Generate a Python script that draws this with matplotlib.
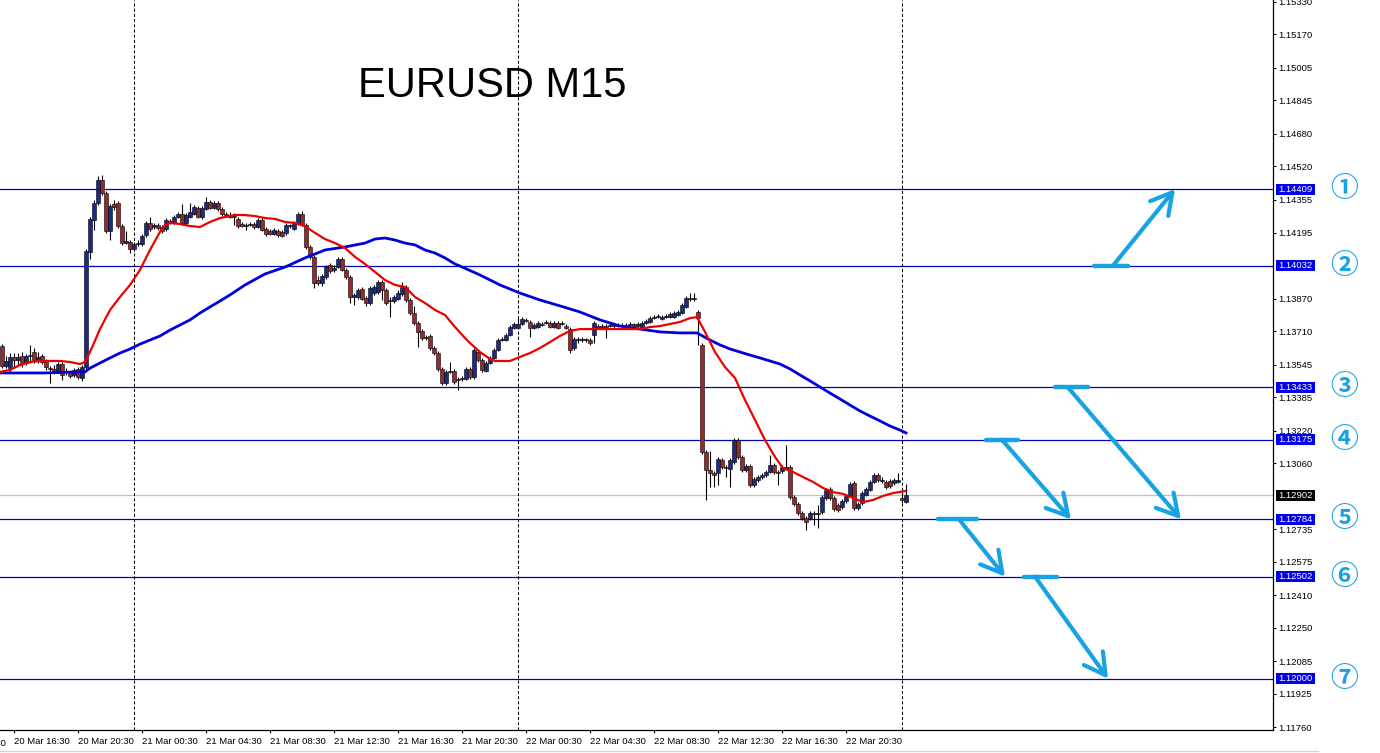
import matplotlib
matplotlib.use("Agg")
import matplotlib.pyplot as plt
from matplotlib.lines import Line2D
from matplotlib.patches import Rectangle
from matplotlib.transforms import IdentityTransform

plt.rcParams['font.family'] = ['Liberation Sans', 'DejaVu Sans']

# EURUSD M15 candles, bar 0 = 20 Mar 16:30, one bar every 15 minutes
first_bar = -3
opens = [
    1.13637, 1.13538, 1.13528, 1.13583, 1.13568, 1.13587, 1.13553, 1.13587, 1.13607, 1.13568,
    1.13587, 1.13563, 1.13528, 1.13524, 1.13514, 1.13548, 1.13509, 1.13509, 1.13494, 1.13524,
    1.13479, 1.13533, 1.14099, 1.14257, 1.14340, 1.14453, 1.14389, 1.14203, 1.14335, 1.14340,
    1.14227, 1.14143, 1.14148, 1.14114, 1.14138, 1.14138, 1.14183, 1.14242, 1.14222, 1.14232,
    1.14222, 1.14212, 1.14247, 1.14242, 1.14271, 1.14286, 1.14242, 1.14271, 1.14286, 1.14316,
    1.14271, 1.14311, 1.14345, 1.14316, 1.14340, 1.14311, 1.14286, 1.14281, 1.14271, 1.14262,
    1.14237, 1.14227, 1.14232, 1.14237, 1.14222, 1.14257, 1.14212, 1.14203, 1.14188, 1.14203,
    1.14198, 1.14193, 1.14227, 1.14212, 1.14237, 1.14286, 1.14232, 1.14124, 1.14075, 1.13961,
    1.13947, 1.13976, 1.14035, 1.14011, 1.14025, 1.14065, 1.14011, 1.13976, 1.13878, 1.13878,
    1.13917, 1.13873, 1.13848, 1.13897, 1.13902, 1.13952, 1.13912, 1.13858, 1.13858, 1.13868,
    1.13892, 1.13927, 1.13863, 1.13799, 1.13750, 1.13711, 1.13681, 1.13686, 1.13627, 1.13602,
    1.13524, 1.13455, 1.13509, 1.13514, 1.13474, 1.13474, 1.13474, 1.13524, 1.13484, 1.13607,
    1.13568, 1.13514, 1.13553, 1.13578, 1.13617, 1.13666, 1.13666, 1.13691, 1.13725, 1.13725,
    1.13745, 1.13765, 1.13755, 1.13725, 1.13730, 1.13745, 1.13750, 1.13750, 1.13730, 1.13750,
    1.13745, 1.13735, 1.13720, 1.13627, 1.13671, 1.13666, 1.13671, 1.13666, 1.13691, 1.13730,
    1.13735, 1.13735, 1.13735, 1.13740, 1.13735, 1.13740, 1.13735, 1.13740, 1.13745, 1.13735,
    1.13725, 1.13750, 1.13755, 1.13774, 1.13779, 1.13770, 1.13779, 1.13779, 1.13779, 1.13789,
    1.13799, 1.13829, 1.13873, 1.13868, 1.13804, 1.13642, 1.13115, 1.13027, 1.13012, 1.13012,
    1.13076, 1.13041, 1.13031, 1.13066, 1.13174, 1.13091, 1.13027, 1.13046, 1.12953, 1.12977,
    1.12992, 1.13002, 1.13017, 1.13051, 1.13017, 1.13022, 1.13036, 1.13041, 1.12894, 1.12859,
    1.12815, 1.12790, 1.12790, 1.12815, 1.12810, 1.12820, 1.12889, 1.12933, 1.12889, 1.12854,
    1.12845, 1.12874, 1.12899, 1.12963, 1.12840, 1.12864, 1.12904, 1.12928, 1.12968, 1.13002,
    1.12973, 1.12968, 1.12973, 1.12963, 1.12968, 1.12889, 1.12869,
]
highs = [
    1.13646, 1.13587, 1.13602, 1.13602, 1.13602, 1.13607, 1.13597, 1.13642, 1.13627, 1.13607,
    1.13597, 1.13573, 1.13538, 1.13543, 1.13558, 1.13558, 1.13528, 1.13519, 1.13528, 1.13533,
    1.13543, 1.14114, 1.14271, 1.14355, 1.14473, 1.14478, 1.14399, 1.14335, 1.14355, 1.14350,
    1.14237, 1.14203, 1.14158, 1.14148, 1.14158, 1.14188, 1.14252, 1.14271, 1.14242, 1.14242,
    1.14232, 1.14266, 1.14262, 1.14281, 1.14296, 1.14335, 1.14291, 1.14340, 1.14330, 1.14326,
    1.14326, 1.14370, 1.14355, 1.14350, 1.14350, 1.14321, 1.14296, 1.14296, 1.14291, 1.14271,
    1.14247, 1.14242, 1.14247, 1.14247, 1.14266, 1.14266, 1.14222, 1.14212, 1.14217, 1.14212,
    1.14207, 1.14242, 1.14237, 1.14252, 1.14296, 1.14301, 1.14242, 1.14134, 1.14084, 1.13981,
    1.13991, 1.14035, 1.14045, 1.14035, 1.14075, 1.14075, 1.14020, 1.13986, 1.13897, 1.13922,
    1.13927, 1.13883, 1.13932, 1.13937, 1.13961, 1.13961, 1.13922, 1.13878, 1.13888, 1.13912,
    1.13952, 1.13937, 1.13873, 1.13834, 1.13760, 1.13720, 1.13691, 1.13696, 1.13637, 1.13612,
    1.13533, 1.13519, 1.13558, 1.13524, 1.13484, 1.13489, 1.13533, 1.13533, 1.13627, 1.13617,
    1.13578, 1.13563, 1.13587, 1.13627, 1.13676, 1.13681, 1.13701, 1.13740, 1.13755, 1.13774,
    1.13779, 1.13774, 1.13765, 1.13750, 1.13760, 1.13755, 1.13765, 1.13760, 1.13760, 1.13760,
    1.13760, 1.13745, 1.13730, 1.13681, 1.13681, 1.13681, 1.13676, 1.13676, 1.13760, 1.13745,
    1.13745, 1.13745, 1.13750, 1.13750, 1.13750, 1.13750, 1.13750, 1.13755, 1.13750, 1.13755,
    1.13760, 1.13770, 1.13784, 1.13789, 1.13794, 1.13789, 1.13794, 1.13804, 1.13809, 1.13814,
    1.13848, 1.13883, 1.13897, 1.13897, 1.13814, 1.13651, 1.13125, 1.13120, 1.13022, 1.13091,
    1.13086, 1.13051, 1.13086, 1.13184, 1.13184, 1.13101, 1.13056, 1.13056, 1.12992, 1.13002,
    1.13012, 1.13027, 1.13100, 1.13061, 1.13027, 1.13051, 1.13150, 1.13051, 1.12904, 1.12869,
    1.12825, 1.12800, 1.12825, 1.12825, 1.12854, 1.12904, 1.12938, 1.12943, 1.12899, 1.12864,
    1.12884, 1.12909, 1.12968, 1.12973, 1.12869, 1.12923, 1.12943, 1.12977, 1.13012, 1.13012,
    1.12992, 1.12977, 1.12982, 1.12987, 1.13012, 1.12918, 1.12958,
]
lows = [
    1.13528, 1.13528, 1.13509, 1.13533, 1.13543, 1.13533, 1.13543, 1.13553, 1.13553, 1.13553,
    1.13548, 1.13519, 1.13455, 1.13499, 1.13504, 1.13469, 1.13494, 1.13479, 1.13484, 1.13474,
    1.13465, 1.13524, 1.14065, 1.14207, 1.14330, 1.14380, 1.14193, 1.14158, 1.14306, 1.14217,
    1.14134, 1.14138, 1.14094, 1.14104, 1.14129, 1.14129, 1.14173, 1.14203, 1.14212, 1.14207,
    1.14193, 1.14203, 1.14237, 1.14237, 1.14266, 1.14232, 1.14232, 1.14266, 1.14281, 1.14266,
    1.14262, 1.14306, 1.14311, 1.14311, 1.14301, 1.14276, 1.14271, 1.14266, 1.14232, 1.14217,
    1.14222, 1.14207, 1.14227, 1.14212, 1.14217, 1.14203, 1.14178, 1.14183, 1.14183, 1.14173,
    1.14173, 1.14183, 1.14217, 1.14207, 1.14232, 1.14227, 1.14114, 1.14065, 1.13922, 1.13937,
    1.13932, 1.13966, 1.13996, 1.14001, 1.14020, 1.14006, 1.13966, 1.13848, 1.13838, 1.13868,
    1.13863, 1.13833, 1.13838, 1.13888, 1.13892, 1.13863, 1.13838, 1.13779, 1.13848, 1.13863,
    1.13883, 1.13853, 1.13789, 1.13740, 1.13632, 1.13666, 1.13666, 1.13617, 1.13592, 1.13514,
    1.13445, 1.13445, 1.13504, 1.13450, 1.13420, 1.13465, 1.13469, 1.13474, 1.13474, 1.13558,
    1.13509, 1.13509, 1.13548, 1.13573, 1.13612, 1.13661, 1.13661, 1.13686, 1.13720, 1.13720,
    1.13740, 1.13755, 1.13681, 1.13720, 1.13725, 1.13735, 1.13745, 1.13725, 1.13725, 1.13720,
    1.13740, 1.13720, 1.13602, 1.13617, 1.13651, 1.13656, 1.13656, 1.13642, 1.13651, 1.13720,
    1.13725, 1.13676, 1.13730, 1.13725, 1.13730, 1.13725, 1.13730, 1.13730, 1.13725, 1.13730,
    1.13715, 1.13745, 1.13750, 1.13770, 1.13774, 1.13765, 1.13774, 1.13774, 1.13774, 1.13784,
    1.13794, 1.13824, 1.13858, 1.13858, 1.13642, 1.13105, 1.12879, 1.12943, 1.12943, 1.12953,
    1.13031, 1.12992, 1.12943, 1.13056, 1.13081, 1.13017, 1.13017, 1.12943, 1.12943, 1.12968,
    1.12982, 1.12992, 1.13012, 1.13007, 1.12953, 1.13012, 1.13027, 1.12884, 1.12850, 1.12805,
    1.12781, 1.12731, 1.12781, 1.12756, 1.12741, 1.12810, 1.12879, 1.12879, 1.12825, 1.12820,
    1.12835, 1.12864, 1.12894, 1.12830, 1.12830, 1.12854, 1.12899, 1.12923, 1.12963, 1.12968,
    1.12963, 1.12933, 1.12938, 1.12953, 1.12963, 1.12864, 1.12864,
]
closes = [
    1.13538, 1.13563, 1.13583, 1.13568, 1.13583, 1.13553, 1.13587, 1.13592, 1.13568, 1.13583,
    1.13558, 1.13533, 1.13524, 1.13514, 1.13548, 1.13494, 1.13514, 1.13489, 1.13519, 1.13484,
    1.13533, 1.14104, 1.14262, 1.14340, 1.14453, 1.14389, 1.14203, 1.14326, 1.14321, 1.14227,
    1.14143, 1.14153, 1.14114, 1.14138, 1.14143, 1.14178, 1.14242, 1.14212, 1.14232, 1.14217,
    1.14203, 1.14257, 1.14252, 1.14271, 1.14286, 1.14242, 1.14281, 1.14296, 1.14321, 1.14271,
    1.14316, 1.14345, 1.14316, 1.14340, 1.14311, 1.14286, 1.14281, 1.14271, 1.14276, 1.14227,
    1.14227, 1.14232, 1.14237, 1.14222, 1.14257, 1.14207, 1.14188, 1.14188, 1.14207, 1.14183,
    1.14178, 1.14232, 1.14232, 1.14242, 1.14286, 1.14232, 1.14124, 1.14075, 1.13947, 1.13947,
    1.13981, 1.14025, 1.14006, 1.14020, 1.14065, 1.14011, 1.13976, 1.13878, 1.13888, 1.13912,
    1.13868, 1.13848, 1.13922, 1.13927, 1.13952, 1.13912, 1.13848, 1.13863, 1.13878, 1.13897,
    1.13927, 1.13863, 1.13799, 1.13750, 1.13706, 1.13676, 1.13676, 1.13627, 1.13602, 1.13524,
    1.13455, 1.13509, 1.13514, 1.13460, 1.13469, 1.13479, 1.13524, 1.13484, 1.13617, 1.13568,
    1.13519, 1.13553, 1.13578, 1.13617, 1.13666, 1.13671, 1.13691, 1.13730, 1.13745, 1.13745,
    1.13770, 1.13760, 1.13725, 1.13740, 1.13750, 1.13740, 1.13755, 1.13730, 1.13750, 1.13725,
    1.13750, 1.13725, 1.13617, 1.13671, 1.13666, 1.13671, 1.13666, 1.13651, 1.13750, 1.13735,
    1.13730, 1.13730, 1.13740, 1.13735, 1.13740, 1.13735, 1.13740, 1.13745, 1.13735, 1.13745,
    1.13750, 1.13760, 1.13774, 1.13779, 1.13784, 1.13779, 1.13784, 1.13794, 1.13799, 1.13804,
    1.13838, 1.13873, 1.13868, 1.13873, 1.13774, 1.13115, 1.13027, 1.13012, 1.13002, 1.13081,
    1.13041, 1.13036, 1.13076, 1.13174, 1.13091, 1.13027, 1.13046, 1.12953, 1.12982, 1.12992,
    1.13002, 1.13017, 1.13051, 1.13017, 1.13012, 1.13041, 1.13041, 1.12894, 1.12859, 1.12815,
    1.12790, 1.12771, 1.12815, 1.12810, 1.12815, 1.12894, 1.12928, 1.12889, 1.12835, 1.12830,
    1.12874, 1.12899, 1.12958, 1.12840, 1.12859, 1.12913, 1.12933, 1.12968, 1.13002, 1.12977,
    1.12977, 1.12943, 1.12948, 1.12977, 1.12977, 1.12879, 1.12902,
]

# moving averages (bar position, price)
fast_ma_bars = [
    -3.5, -1, 1.5, 4, 6.5, 9, 11.5, 14, 16.5, 17.75, 19, 21.5, 24, 26.5, 29, 31.5, 34, 36.5,
    37.75, 39, 41.5, 44, 46.5, 49, 51.5, 54, 55.25, 57.75, 60.25, 62.75, 65.25, 67.75, 70.25,
    72.75, 75.25, 77.75, 80.25, 82.75, 85.25, 87.75, 90.25, 92.75, 95.25, 97.75, 100.25,
    102.75, 105.25, 107.75, 110.25, 112.75, 114, 116.5, 119, 120.25, 124, 126.5, 129, 131.5,
    134, 136.5, 139, 141.5, 146.5, 151.5, 156.5, 159, 161.5, 164, 166.5, 169, 170.75, 172.75,
    175.25, 177.75, 180.25, 182.75, 185.25, 187.75, 190.25, 192.25, 194.75, 197.25, 199.75,
    202.25, 204.75, 207.25, 209.75, 212.25, 214.75, 217.25, 219.75, 222.75,
]
fast_ma = [
    1.13509, 1.13519, 1.13543, 1.13558, 1.13563, 1.13563, 1.13563, 1.13558, 1.13548, 1.13558,
    1.13607, 1.13720, 1.13814, 1.13878, 1.13937, 1.14011, 1.14109, 1.14198, 1.14232, 1.14242,
    1.14237, 1.14227, 1.14222, 1.14247, 1.14266, 1.14276, 1.14281, 1.14281, 1.14276, 1.14266,
    1.14262, 1.14247, 1.14242, 1.14227, 1.14193, 1.14163, 1.14143, 1.14119, 1.14075, 1.14040,
    1.14001, 1.13961, 1.13937, 1.13927, 1.13878, 1.13848, 1.13814, 1.13789, 1.13730, 1.13676,
    1.13651, 1.13607, 1.13573, 1.13563, 1.13563, 1.13583, 1.13602, 1.13627, 1.13656, 1.13686,
    1.13711, 1.13720, 1.13720, 1.13720, 1.13720, 1.13730, 1.13735, 1.13745, 1.13755, 1.13774,
    1.13779, 1.13706, 1.13607, 1.13533, 1.13479, 1.13371, 1.13273, 1.13174, 1.13091, 1.13036,
    1.13017, 1.12992, 1.12968, 1.12938, 1.12918, 1.12909, 1.12889, 1.12869, 1.12879, 1.12899,
    1.12913, 1.12923,
]
slow_ma_bars = [
    -3.5, 7.25, 16.5, 17.75, 19, 21.5, 24, 26.5, 29, 31.5, 34, 36.5, 39, 41.5, 44, 46.5, 49,
    51.5, 54, 57.75, 62.75, 67.75, 72.75, 77.75, 82.75, 87.75, 90.25, 92.75, 95.25, 97.75,
    100.25, 102.75, 105.25, 107.75, 110.25, 111.5, 116.5, 121.5, 126.5, 131.5, 136.5, 141.5,
    146.5, 151.5, 156.5, 161.5, 166.5, 170.75, 174, 176.5, 179, 181.5, 184, 186.5, 189, 191.5,
    194, 196.5, 199, 201.5, 204, 206.5, 209, 211.5, 214, 216.5, 219, 221.5, 223,
]
slow_ma = [
    1.13504, 1.13504, 1.13509, 1.13509, 1.13528, 1.13553, 1.13578, 1.13602, 1.13622, 1.13646,
    1.13666, 1.13686, 1.13715, 1.13740, 1.13765, 1.13799, 1.13829, 1.13858, 1.13888, 1.13937,
    1.13991, 1.14025, 1.14070, 1.14109, 1.14124, 1.14143, 1.14163, 1.14168, 1.14158, 1.14143,
    1.14134, 1.14109, 1.14094, 1.14070, 1.14040, 1.14030, 1.13986, 1.13937, 1.13897, 1.13863,
    1.13834, 1.13804, 1.13765, 1.13735, 1.13720, 1.13706, 1.13701, 1.13701, 1.13666, 1.13642,
    1.13622, 1.13607, 1.13592, 1.13578, 1.13563, 1.13548, 1.13524, 1.13494, 1.13465, 1.13435,
    1.13405, 1.13376, 1.13346, 1.13317, 1.13292, 1.13268, 1.13243, 1.13223, 1.13209,
]

levels = [1.14409, 1.14032, 1.13433, 1.13175, 1.12784, 1.12502, 1.12000]
level_marks = ['①', '②', '③', '④', '⑤', '⑥', '⑦']
last_price = 1.12902

price_ticks = [1.15330, 1.15170, 1.15005, 1.14845, 1.14680, 1.14520, 1.14355, 1.14195,
               1.13870, 1.13710, 1.13545, 1.13385, 1.13220, 1.13060, 1.12735, 1.12575,
               1.12410, 1.12250, 1.12085, 1.11925, 1.11760]
time_tick_bars = [0, 16, 32, 48, 64, 80, 96, 112, 128, 144, 160, 176, 192, 208]
time_tick_labels = ['20 Mar 16:30', '20 Mar 20:30', '21 Mar 00:30', '21 Mar 04:30',
                    '21 Mar 08:30', '21 Mar 12:30', '21 Mar 16:30', '21 Mar 20:30',
                    '22 Mar 00:30', '22 Mar 04:30', '22 Mar 08:30', '22 Mar 12:30',
                    '22 Mar 16:30', '22 Mar 20:30']
day_breaks = [30, 126, 222]

# hand drawn arrows: from level, to level, (bar x start, bar x end), line start x, tip x
arrow_from = [1, 2, 3, 4, 5]
arrow_to = [0, 4, 4, 5, 6]
arrow_base = [(270, 278.5), (260.25, 268.5), (243, 251), (231, 240.75), (252.5, 260.75)]
arrow_start = [274.75, 263.5, 247, 236.25, 255.25]
arrow_tip = [290.25, 291.75, 264.25, 247.75, 273.5]

bull_color = '#1b2a82'
bear_color = '#962b2b'
level_color = '#0000c0'
arrow_color = '#17a2e4'

W, H = 1380, 753
fig = plt.figure(figsize=(W / 100, H / 100), dpi=100)
ax = fig.add_axes([0, 23 / H, 1273 / W, 730 / H])
ax.set_xlim(-3.5, 314.75)
ax.set_ylim(1.117474, 1.15339)

bars = list(range(first_bar, first_bar + len(opens)))

# level lines and current price line
for lv in levels:
    ax.axhline(lv, color=level_color, linewidth=0.9, zorder=1)
ax.axhline(last_price, color='#c0c0c0', linewidth=0.9, zorder=1)

for b in day_breaks:
    ax.axvline(b, color='black', linewidth=0.75, linestyle=(0, (3, 2)), zorder=1)

# candles
ax.vlines(bars, lows, highs, color='black', linewidth=0.8, zorder=3)
bottoms = [min(o, c) for o, c in zip(opens, closes)]
heights = [max(abs(c - o), 0.00002) for o, c in zip(opens, closes)]
colors = [bull_color if c >= o else bear_color for o, c in zip(opens, closes)]
ax.bar(bars, heights, bottom=bottoms, width=0.78, color=colors,
       edgecolor='black', linewidth=0.4, zorder=4)

ax.plot(slow_ma_bars, slow_ma, color='#0000dd', linewidth=2.0, zorder=5)
ax.plot(fast_ma_bars, fast_ma, color='#ee0000', linewidth=1.6, zorder=6)

# arrows
for f, t, base, xs, xt in zip(arrow_from, arrow_to, arrow_base, arrow_start, arrow_tip):
    ax.plot(base, [levels[f], levels[f]], color=arrow_color, linewidth=3.2,
            solid_capstyle='round', zorder=7, clip_on=False)
    ax.annotate('', xy=(xt, levels[t]), xytext=(xs, levels[f]),
                arrowprops=dict(arrowstyle='->,head_length=0.75,head_width=0.42',
                                mutation_scale=20, color=arrow_color, linewidth=3.0,
                                shrinkA=0, shrinkB=0, capstyle='round'),
                zorder=7)

# axes styling
for side in ['top', 'left']:
    ax.spines[side].set_visible(False)
for side in ['bottom', 'right']:
    ax.spines[side].set_linewidth(0.9)
ax.yaxis.tick_right()
ax.set_yticks(price_ticks)
ax.set_yticklabels(['%.5f' % p for p in price_ticks])
ax.tick_params(axis='y', direction='out', length=2.5, width=0.75, pad=1.5,
               labelsize=6.8, colors='black')
ax.set_xticks(time_tick_bars)
ax.set_xticklabels(time_tick_labels)
ax.tick_params(axis='x', direction='out', length=2, width=0.75, pad=3, labelsize=6.8)
for lbl in ax.get_xticklabels():
    lbl.set_horizontalalignment('left')
ax.text(-16, -0.013, '20 Mar 12:30', transform=ax.get_xaxis_transform(), fontsize=6.8,
        ha='left', va='top', clip_on=False)

# price labels on the axis
ident = IdentityTransform()
fig.canvas.draw()
for val, face in [(lv, '#0000ee') for lv in levels] + [(last_price, 'black')]:
    yd = ax.transData.transform((0, val))[1]
    fig.add_artist(Rectangle((1276, yd - 5.5), 39, 11, transform=ident,
                             facecolor=face, edgecolor='none', zorder=5))
    fig.text(1278, yd, '%.5f' % val, transform=ident, color='white', fontsize=6.8,
             va='center', ha='left', zorder=6)

for lv, mark in zip(levels, level_marks):
    yd = ax.transData.transform((0, lv))[1]
    fig.text(1344, yd, mark, transform=ident, color=arrow_color, fontsize=20,
             fontweight='bold', ha='center', va='center',
             family=['Noto Sans CJK JP', 'DejaVu Sans'])

fig.text(358, H - 97, 'EURUSD M15', transform=ident, fontsize=30, color='black',
         ha='left', va='baseline')

fig.add_artist(Line2D([0, 1318], [2, 2], transform=ident, color='#d4d4d4', linewidth=1))

fig.savefig('out.png', dpi=100)
